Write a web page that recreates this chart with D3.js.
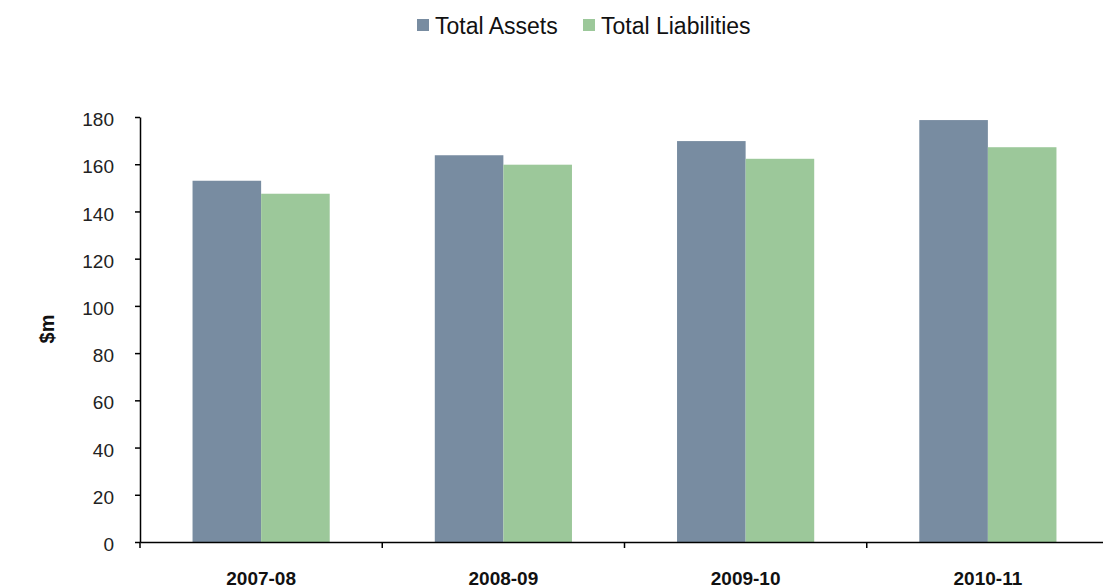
<!DOCTYPE html>
<html>
<head>
<meta charset="utf-8">
<script src="https://cdn.jsdelivr.net/npm/d3@7"></script>
<style>
  html, body { margin: 0; padding: 0; background: #fff; }
  svg { display: block; font-family: "Liberation Sans", Arial, sans-serif; }
</style>
</head>
<body>
<svg id="chart" width="1103" height="588"></svg>
<script>
const categories = ["2007-08", "2008-09", "2009-10", "2010-11"];
const seriesNames = ["Total Assets", "Total Liabilities"];
const totalAssets = [153, 163.8, 169.8, 178.7];
const totalLiabilities = [147.5, 159.8, 162.3, 167.2];
const yTicks = [0, 20, 40, 60, 80, 100, 120, 140, 160, 180];
const colors = ["#788ca1", "#9cc89a"];
const yLabel = "$m";

const seriesValues = [totalAssets, totalLiabilities];
const svg = d3.select("#chart");

const x = d3.scaleBand().domain(categories).range([140, 1109]).padding(0);
const xInner = d3.scaleBand().domain(seriesNames).range([0, x.bandwidth()])
  .paddingInner(0).paddingOuter(0.766);
const y = d3.scaleLinear().domain([0, 180]).range([542, 117]);

// bars
const groups = svg.append("g").selectAll("g").data(categories).join("g")
  .attr("transform", d => `translate(${x(d)},0)`);
groups.selectAll("rect")
  .data((c, i) => seriesNames.map((s, k) => ({ s, k, v: seriesValues[k][i] })))
  .join("rect")
  .attr("x", d => xInner(d.s))
  .attr("width", xInner.bandwidth())
  .attr("y", d => y(d.v))
  .attr("height", d => y(0) - y(d.v))
  .attr("fill", d => colors[d.k]);

// y axis
const yAxis = svg.append("g").attr("transform", "translate(140,0)")
  .call(d3.axisLeft(y).tickValues(yTicks).tickSize(5).tickSizeOuter(0).tickPadding(21));
yAxis.select(".domain").attr("stroke", "#000").attr("stroke-width", 1.5);
yAxis.selectAll(".tick line").attr("stroke", "#000").attr("stroke-width", 1.5);
yAxis.selectAll(".tick text").attr("font-size", 19).attr("fill", "#222")
  .attr("dy", "0.45em")
  .attr("font-family", "Liberation Sans, Arial, sans-serif");

// x axis
const xAxis = svg.append("g").attr("transform", `translate(0,${y(0)})`)
  .call(d3.axisBottom(x).tickSize(0).tickSizeOuter(0).tickPadding(30));
xAxis.select(".domain").attr("stroke", "#000").attr("stroke-width", 1.5);
xAxis.selectAll(".tick text").attr("font-size", 19).attr("font-weight", "bold")
  .attr("fill", "#111").attr("font-family", "Liberation Sans, Arial, sans-serif");
// category boundary ticks
xAxis.selectAll("line.bound").data(categories).join("line")
  .attr("class", "bound")
  .attr("x1", d => x(d)).attr("x2", d => x(d))
  .attr("y1", 0).attr("y2", 6)
  .attr("stroke", "#000").attr("stroke-width", 1.5);

// y label
svg.append("text")
  .attr("transform", "translate(54,329) rotate(-90)")
  .attr("text-anchor", "middle")
  .attr("font-size", 20).attr("font-weight", "bold").attr("fill", "#111")
  .text(yLabel);

// legend
const legendItems = [
  { name: seriesNames[0], color: colors[0], x: 417 },
  { name: seriesNames[1], color: colors[1], x: 583 }
];
const lg = svg.append("g").selectAll("g").data(legendItems).join("g")
  .attr("transform", d => `translate(${d.x},19)`);
lg.append("rect").attr("width", 12).attr("height", 12).attr("fill", d => d.color);
lg.append("text").attr("x", 18).attr("y", 15)
  .attr("font-size", 23).attr("fill", "#111").text(d => d.name);
</script>
</body>
</html>
